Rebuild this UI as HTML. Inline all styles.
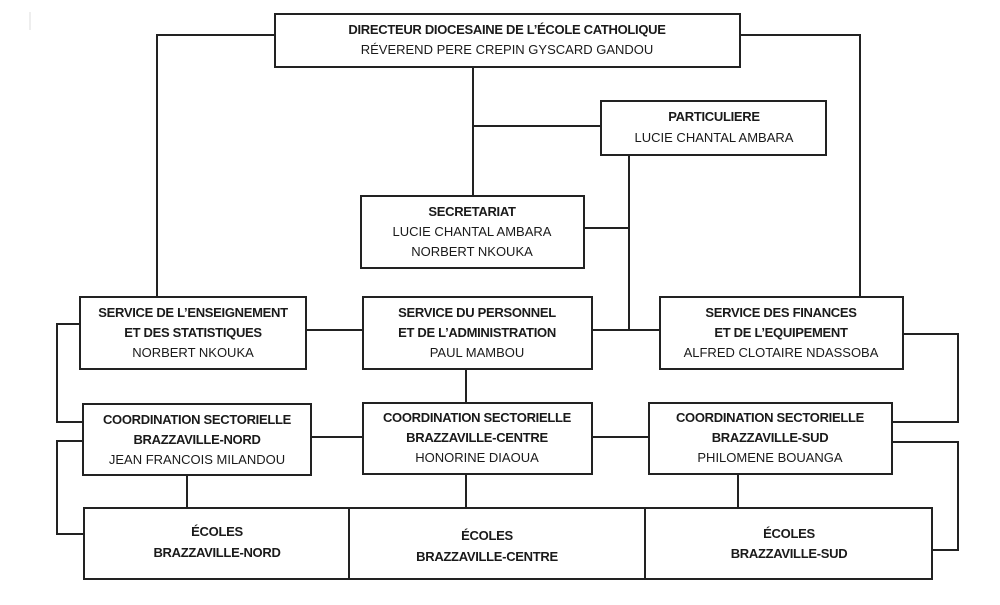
<!DOCTYPE html>
<html><head><meta charset="utf-8"><style>
html,body{margin:0;padding:0;background:#fff;}
svg text{font-family:"Liberation Sans",sans-serif;font-size:13px;fill:#1a1a1a;text-anchor:middle;}
.b{font-weight:bold;letter-spacing:-0.3px;}
</style></head><body>
<svg width="1000" height="600" xmlns="http://www.w3.org/2000/svg">
<g fill="none" stroke="#222" stroke-width="2">
<!-- connectors -->
<path d="M473 67V196M473 126H601"/>
<path d="M275 35H157V297M740 35H860V297"/>
<path d="M629 155V330M584 228H629"/>
<path d="M306 330H363M592 330H660"/>
<path d="M466 369V403"/>
<path d="M311 437H363M592 437H649"/>
<path d="M80 324H57V422H83M83 441H57V534H84"/>
<path d="M903 334H958V422H892M892 442H958V550H932"/>
<path d="M187 475V508M466 474V508M738 474V508"/>
<path d="M30 12V30" stroke="#ddd" stroke-width="1"/>
<!-- boxes -->
<rect x="275" y="14" width="465" height="53"/>
<rect x="601" y="101" width="225" height="54"/>
<rect x="361" y="196" width="223" height="72"/>
<rect x="80" y="297" width="226" height="72"/>
<rect x="363" y="297" width="229" height="72"/>
<rect x="660" y="297" width="243" height="72"/>
<rect x="83" y="404" width="228" height="71"/>
<rect x="363" y="403" width="229" height="71"/>
<rect x="649" y="403" width="243" height="71"/>
<rect x="84" y="508" width="848" height="71"/>
<path d="M349 508V579M645 508V579"/>
</g>
<text class="b" x="507" y="34">DIRECTEUR DIOCESAINE DE L’ÉCOLE CATHOLIQUE</text>
<text x="507" y="54">RÉVEREND PERE CREPIN GYSCARD GANDOU</text>
<text class="b" x="714" y="121">PARTICULIERE</text>
<text x="714" y="142">LUCIE CHANTAL AMBARA</text>
<text class="b" x="472" y="216">SECRETARIAT</text>
<text x="472" y="236">LUCIE CHANTAL AMBARA</text>
<text x="472" y="256">NORBERT NKOUKA</text>
<text class="b" x="193" y="317">SERVICE DE L’ENSEIGNEMENT</text>
<text class="b" x="193" y="337">ET DES STATISTIQUES</text>
<text x="193" y="357">NORBERT NKOUKA</text>
<text class="b" x="477" y="317">SERVICE DU PERSONNEL</text>
<text class="b" x="477" y="337">ET DE L’ADMINISTRATION</text>
<text x="477" y="357">PAUL MAMBOU</text>
<text class="b" x="781" y="317">SERVICE DES FINANCES</text>
<text class="b" x="781" y="337">ET DE L’EQUIPEMENT</text>
<text x="781" y="357">ALFRED CLOTAIRE NDASSOBA</text>
<text class="b" x="197" y="424">COORDINATION SECTORIELLE</text>
<text class="b" x="197" y="444">BRAZZAVILLE-NORD</text>
<text x="197" y="464">JEAN FRANCOIS MILANDOU</text>
<text class="b" x="477" y="422">COORDINATION SECTORIELLE</text>
<text class="b" x="477" y="442">BRAZZAVILLE-CENTRE</text>
<text x="477" y="462">HONORINE DIAOUA</text>
<text class="b" x="770" y="422">COORDINATION SECTORIELLE</text>
<text class="b" x="770" y="442">BRAZZAVILLE-SUD</text>
<text x="770" y="462">PHILOMENE BOUANGA</text>
<text class="b" x="217" y="536">ÉCOLES</text>
<text class="b" x="217" y="557">BRAZZAVILLE-NORD</text>
<text class="b" x="487" y="540">ÉCOLES</text>
<text class="b" x="487" y="561">BRAZZAVILLE-CENTRE</text>
<text class="b" x="789" y="538">ÉCOLES</text>
<text class="b" x="789" y="558">BRAZZAVILLE-SUD</text>
</svg>
</body></html>
